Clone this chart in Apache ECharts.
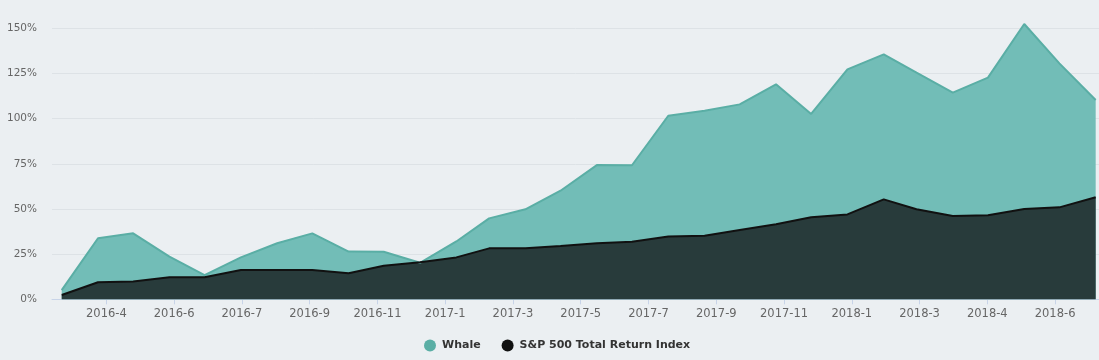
<!DOCTYPE html>
<html>
<head>
<meta charset="utf-8">
<script src="https://cdn.jsdelivr.net/npm/echarts@6/dist/echarts.min.js"></script>
<style>
html,body{margin:0;padding:0;background:#ebeff2;}
#chart{width:1099px;height:360px;}
</style>
</head>
<body>
<div id="chart"></div>
<script>
// Month-end observation dates
const dates = [
  '2016-02-29','2016-03-31','2016-04-30','2016-05-31','2016-06-30','2016-07-31',
  '2016-08-31','2016-09-30','2016-10-31','2016-11-30','2016-12-31','2017-01-31',
  '2017-02-28','2017-03-31','2017-04-30','2017-05-31','2017-06-30','2017-07-31',
  '2017-08-31','2017-09-30','2017-10-31','2017-11-30','2017-12-31','2018-01-31',
  '2018-02-28','2018-03-31','2018-04-30','2018-05-31','2018-06-30','2018-07-31'
];
// Cumulative return, %
const whale = [
  5.1, 33.8, 36.5, 23.6, 13.4, 23.2, 31.0, 36.5, 26.4, 26.3,
  20.2, 32.0, 44.8, 49.8, 60.1, 74.3, 74.2, 101.6, 104.4, 107.9,
  119.0, 102.6, 127.3, 135.6, 125.4, 114.4, 122.7, 152.4, 130.6, 110.3
];
const sp500 = [
  2.4, 9.4, 9.8, 12.2, 12.2, 16.2, 16.2, 16.2, 14.4, 18.6,
  20.5, 23.2, 28.2, 28.2, 29.5, 31.0, 31.9, 34.7, 35.2, 38.4,
  41.5, 45.4, 47.0, 55.3, 49.8, 46.1, 46.5, 50.0, 50.9, 56.5
];
// x-axis ticks (every 5e9 ms) and their labels
const tickValues = [
  1460000000000, 1465000000000, 1470000000000, 1475000000000, 1480000000000,
  1485000000000, 1490000000000, 1495000000000, 1500000000000, 1505000000000,
  1510000000000, 1515000000000, 1520000000000, 1525000000000, 1530000000000
];
const tickLabels = [
  '2016-4','2016-6','2016-7','2016-9','2016-11','2017-1','2017-3','2017-5',
  '2017-7','2017-9','2017-11','2018-1','2018-3','2018-4','2018-6'
];
const yTicks = [0, 25, 50, 75, 100, 125, 150];
const seriesNames = ['Whale', 'S&P 500 Total Return Index'];

const xMin = Date.UTC(2016, 1, 20, 17, 0);
const xMax = Date.UTC(2018, 7, 2, 20, 0);

const ts = s => new Date(s + 'T00:00:00Z').getTime();
const toPairs = arr => arr.map((v, i) => [ts(dates[i]), v]);

const chart = echarts.init(document.getElementById('chart'), null, {renderer: 'canvas'});

chart.setOption({
  backgroundColor: '#ebeff2',
  animation: false,
  textStyle: {fontFamily: 'DejaVu Sans'},
  grid: {left: 52, right: 0, top: 28.3, bottom: 60.7, containLabel: false},
  legend: {
    top: 334.5,
    left: 419,
    icon: 'circle',
    itemWidth: 14,
    itemHeight: 12,
    itemGap: 21,
    data: seriesNames,
    textStyle: {color: '#333', fontSize: 11, fontWeight: 'bold', fontFamily: 'DejaVu Sans'}
  },
  xAxis: {
    type: 'value',
    min: xMin,
    max: xMax,
    axisLine: {show: true, lineStyle: {color: '#c8d4e8', width: 1}},
    axisTick: {show: true, length: 5, customValues: tickValues, lineStyle: {color: '#c8d4e8'}},
    splitLine: {show: false},
    axisLabel: {
      customValues: tickValues,
      color: '#666',
      fontSize: 11.5,
      margin: 9,
      hideOverlap: false,
      formatter: function (v) {
        const i = tickValues.indexOf(v);
        return i >= 0 ? tickLabels[i] : '';
      }
    }
  },
  yAxis: {
    type: 'value',
    min: yTicks[0],
    max: yTicks[yTicks.length - 1],
    interval: 25,
    axisLine: {show: false},
    axisTick: {show: false},
    splitLine: {show: true, lineStyle: {color: '#dde2e6', width: 1}},
    axisLabel: {color: '#666', fontSize: 10.5, margin: 15, formatter: '{value}%'}
  },
  series: [
    {
      name: seriesNames[0],
      type: 'line',
      data: toPairs(whale),
      showSymbol: false,
      clip: false,
      itemStyle: {color: '#5aaea5'},
      lineStyle: {color: '#5aaea5', width: 2},
      areaStyle: {color: '#72bdb7', opacity: 1}
    },
    {
      name: seriesNames[1],
      type: 'line',
      data: toPairs(sp500),
      showSymbol: false,
      clip: false,
      itemStyle: {color: '#111111'},
      lineStyle: {color: '#111111', width: 2},
      areaStyle: {color: '#283b3b', opacity: 1}
    }
  ]
});
</script>
</body>
</html>
